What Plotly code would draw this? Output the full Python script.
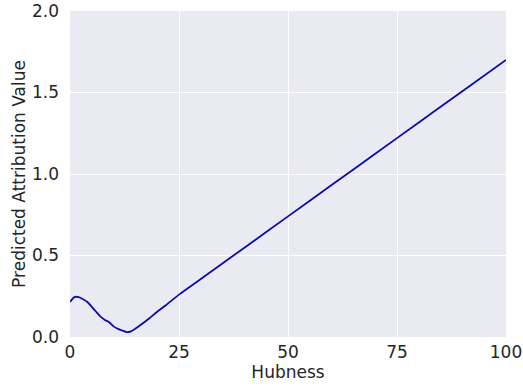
import plotly.graph_objects as go

hubness = [0, 1, 2, 3, 4, 5, 6, 7, 8, 9, 10, 11, 12, 13, 14, 16, 18, 20, 22, 25,
           30, 40, 50, 60, 70, 80, 90, 100]
attribution = [0.215, 0.245, 0.245, 0.232, 0.215, 0.185, 0.155, 0.125, 0.105, 0.090,
               0.065, 0.050, 0.040, 0.030, 0.035, 0.070, 0.110, 0.155, 0.195, 0.260,
               0.356, 0.548, 0.740, 0.932, 1.124, 1.316, 1.508, 1.700]

x_ticks = [0, 25, 50, 75, 100]
y_ticks = [0.0, 0.5, 1.0, 1.5, 2.0]

fig = go.Figure()
fig.add_trace(go.Scatter(x=hubness, y=attribution, mode="lines",
                         line=dict(color="#0c0caa", width=1.8, shape="spline", smoothing=0.6),
                         showlegend=False))

font = dict(family="DejaVu Sans", size=17, color="#262626")
fig.update_layout(
    width=523, height=387,
    margin=dict(l=70, r=17, t=11, b=50),
    plot_bgcolor="#EAEAF2", paper_bgcolor="white",
    font=font,
    xaxis=dict(range=[0, 100], tickvals=x_ticks, ticktext=[str(v) for v in x_ticks],
               showgrid=True, gridcolor="white", gridwidth=1, zeroline=False,
               showline=False, ticks="", ticklabelstandoff=3, automargin=False,
               ticklabeloverflow="allow",
               title=dict(text="Hubness", font=font, standoff=5)),
    yaxis=dict(range=[0, 2.0], tickvals=y_ticks, ticktext=[f"{v:.1f}" for v in y_ticks],
               showgrid=True, gridcolor="white", gridwidth=1, zeroline=False,
               showline=False, ticks="", ticklabelstandoff=10, automargin=False,
               ticklabeloverflow="allow",
               title=dict(text="Predicted Attribution Value", font=font, standoff=2)),
)
fig.write_html("out.html", config={"displayModeBar": False},
               post_script="document.body.style.margin='0';document.body.style.overflow='hidden';")
